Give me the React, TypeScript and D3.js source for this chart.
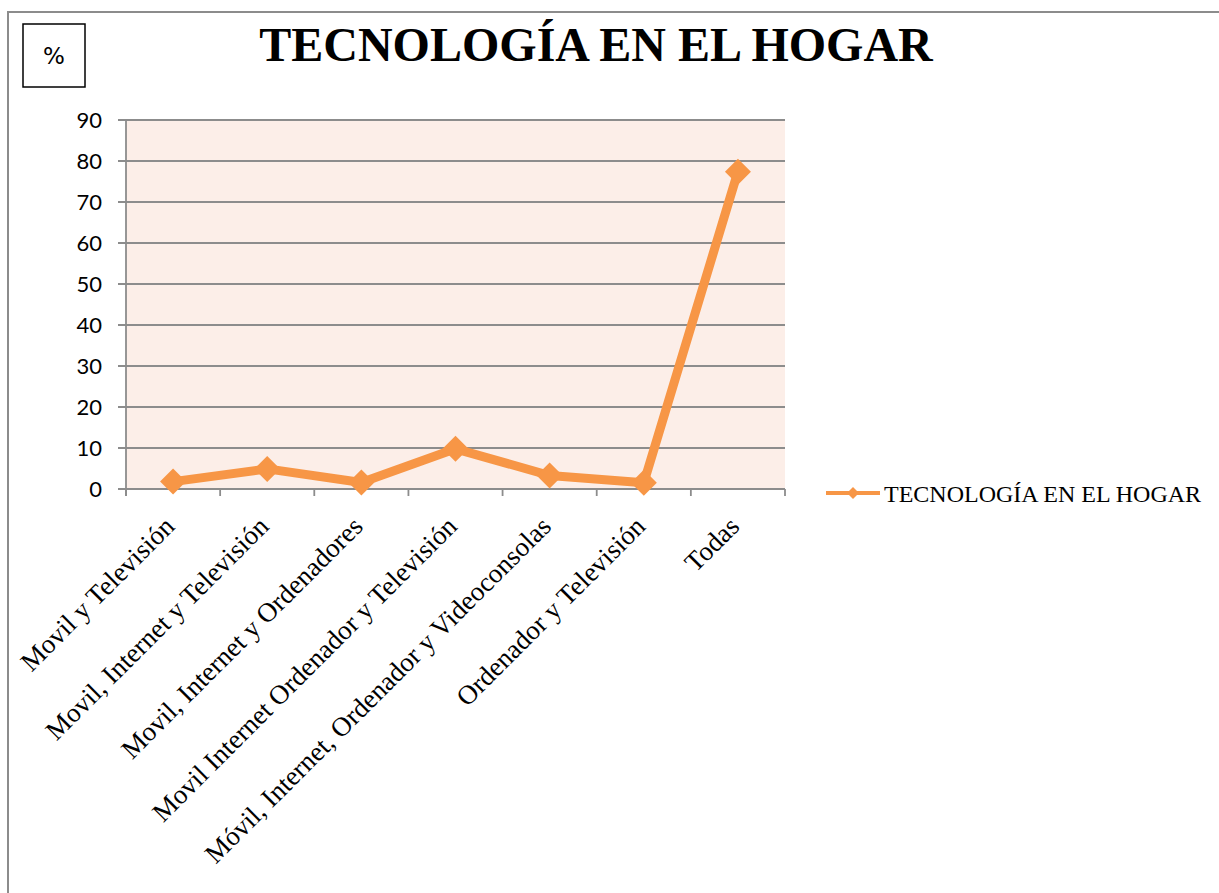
import React from "react";
import * as d3 from "d3";

const categories = [
  "Movil y Televisión",
  "Movil, Internet y Televisión",
  "Movil, Internet y Ordenadores",
  "Movil Internet Ordenador y Televisión",
  "Móvil, Internet, Ordenador y Videoconsolas",
  "Ordenador y Televisión",
  "Todas",
];
const values = [1.8, 4.9, 1.6, 9.8, 3.3, 1.5, 77.4];
const yTicks = [0, 10, 20, 30, 40, 50, 60, 70, 80, 90];
const seriesName = "TECNOLOGÍA EN EL HOGAR";
const title = "TECNOLOGÍA EN EL HOGAR";

const W = 1219;
const H = 893;
const plot = { left: 126, right: 785, top: 120, bottom: 489 };
const color = "#F79646";

export default function App() {
  const x = d3
    .scaleBand<string>()
    .domain(categories)
    .range([plot.left, plot.right])
    .paddingInner(0)
    .paddingOuter(0);
  const y = d3.scaleLinear().domain([0, 90]).range([plot.bottom, plot.top]);
  const cx = (c: string) => (x(c) as number) + x.bandwidth() / 2;
  const line = d3
    .line<number>()
    .x((_, i) => cx(categories[i]))
    .y((d) => y(d));
  const diamond = (px: number, py: number, r: number) =>
    `M${px},${py - r}L${px + r},${py}L${px},${py + r}L${px - r},${py}Z`;
  const boundaries = categories.map((c) => x(c) as number).concat([plot.right]);

  return (
    <svg
      width={W}
      height={H}
      style={{ position: "absolute", left: 0, top: 0, background: "#fff" }}
    >
      {/* outer frame */}
      <rect x={8} y={12} width={W} height={H} fill="none" stroke="#8c8c8c" strokeWidth={2} />
      {/* % box */}
      <rect x={23} y={24} width={62} height={63} fill="#fff" stroke="#000" strokeWidth={1.5} />
      <text x={54} y={64} textAnchor="middle" fontFamily="DejaVu Sans" fontSize={23}>
        %
      </text>
      {/* title */}
      <text
        x={596}
        y={61}
        textAnchor="middle"
        fontFamily="Liberation Serif"
        fontWeight="bold"
        fontSize={48}
      >
        {title}
      </text>
      {/* plot background */}
      <rect
        x={plot.left}
        y={plot.top}
        width={plot.right - plot.left}
        height={plot.bottom - plot.top}
        fill="#FCEEE8"
      />
      {/* gridlines */}
      {yTicks.map((t) => (
        <line
          key={"g" + t}
          x1={plot.left - 8}
          x2={plot.right}
          y1={y(t)}
          y2={y(t)}
          stroke="#8c8c8c"
          strokeWidth={1.8}
        />
      ))}
      {/* y axis */}
      <line x1={plot.left} x2={plot.left} y1={plot.top} y2={plot.bottom + 7} stroke="#8c8c8c" strokeWidth={1.8} />
      {yTicks.map((t) => (
        <text
          key={"yl" + t}
          x={102}
          y={y(t)}
          dy="0.35em"
          textAnchor="end"
          fontFamily="Lato"
          fontSize={22}
        >
          {t}
        </text>
      ))}
      {/* x ticks */}
      {boundaries.map((b, i) => (
        <line
          key={"xt" + i}
          x1={b}
          x2={b}
          y1={plot.bottom}
          y2={plot.bottom + 7}
          stroke="#8c8c8c"
          strokeWidth={1.8}
        />
      ))}
      {/* x labels */}
      {categories.map((c) => (
        <text
          key={"xl" + c}
          transform={`translate(${cx(c) + 3},${plot.bottom + 39}) rotate(-45)`}
          textAnchor="end"
          fontFamily="Liberation Serif"
          fontSize={27}
        >
          {c}
        </text>
      ))}
      {/* series */}
      <path
        d={line(values) as string}
        fill="none"
        stroke={color}
        strokeWidth={9}
        strokeLinejoin="round"
      />
      {values.map((v, i) => (
        <path key={"m" + i} d={diamond(cx(categories[i]), y(v), 13)} fill={color} />
      ))}
      {/* legend */}
      <line x1={826} x2={880} y1={493} y2={493} stroke={color} strokeWidth={4} />
      <path d={diamond(853, 493, 6)} fill={color} />
      <text x={884} y={494} dy="0.35em" fontFamily="Liberation Serif" fontSize={24}>
        {seriesName}
      </text>
    </svg>
  );
}
